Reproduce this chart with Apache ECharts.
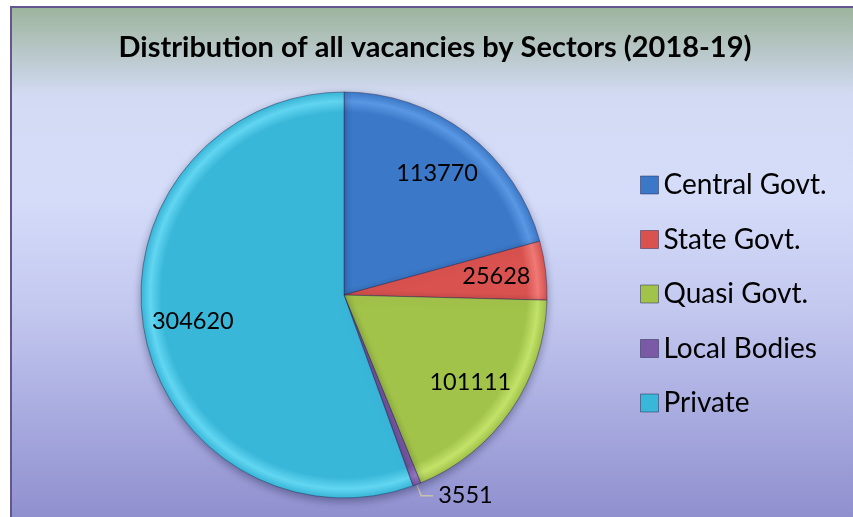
<!DOCTYPE html>
<html>
<head>
<meta charset="utf-8">
<script src="https://cdn.jsdelivr.net/npm/echarts@6/dist/echarts.min.js"></script>
<style>
html,body{margin:0;padding:0;background:#fff;}
#c{width:853px;height:517px;}
</style>
</head>
<body>
<div id="c"></div>
<script>
const categories = ['Central Govt.', 'State Govt.', 'Quasi Govt.', 'Local Bodies', 'Private'];
const values = [113770, 25628, 101111, 3551, 304620];
const colors = ['#3b79c8', '#d9524f', '#a2c34a', '#7a59a5', '#39b7d9'];
const lightColors = ['#5a98e4', '#f07a76', '#c2e26a', '#9a7ac6', '#62d6f2'];
const titleText = 'Distribution of all vacancies by Sectors (2018-19)';

const total = values.reduce((a, b) => a + b, 0);
const center = [344, 295];
const R = 203;

function bevel(i) {
  return new echarts.graphic.RadialGradient(center[0], center[1], R, [
    { offset: 0, color: colors[i] },
    { offset: 0.9, color: colors[i] },
    { offset: 0.955, color: lightColors[i] },
    { offset: 1, color: colors[i] }
  ], true);
}

const mainData = categories.map((n, i) => ({
  name: n,
  value: values[i],
  itemStyle: { color: bevel(i) },
  label: { show: values[i] / total < 0.02 },
  labelLine: { show: values[i] / total < 0.02 }
}));
const labelData = categories.map((n, i) => ({
  name: n,
  value: values[i],
  label: { show: values[i] / total >= 0.02 }
}));

const chart = echarts.init(document.getElementById('c'), null, { renderer: 'canvas' });
chart.setOption({
  animation: false,
  backgroundColor: '#ffffff',
  color: colors,
  graphic: [{
    type: 'rect',
    z: -10,
    shape: { x: 11, y: 7, width: 860, height: 530 },
    style: {
      fill: new echarts.graphic.LinearGradient(0, 0, 0, 1, [
        { offset: 0, color: '#9cb39b' },
        { offset: 0.17, color: '#d3dbf4' },
        { offset: 0.36, color: '#d5dcf9' },
        { offset: 0.57, color: '#c3c8ef' },
        { offset: 0.77, color: '#a8abdf' },
        { offset: 1, color: '#8a8acb' }
      ]),
      stroke: '#65568f',
      lineWidth: 2
    }
  }],
  title: {
    text: titleText,
    left: 435,
    textAlign: 'center',
    top: 33,
    padding: 0,
    textStyle: { fontFamily: 'Lato', fontWeight: 'bold', fontSize: 29, color: '#000' }
  },
  legend: {
    orient: 'vertical',
    left: 640,
    top: 171,
    padding: 0,
    itemWidth: 18,
    itemHeight: 18,
    itemGap: 26.5,
    itemTextGap: 8,
    icon: 'rect',
    textStyle: { fontFamily: 'Lato', fontSize: 28, color: '#000' },
    data: categories.map((n, i) => ({ name: n, itemStyle: { color: colors[i], borderColor: 'rgba(40,40,80,0.5)', borderWidth: 1 } }))
  },
  series: [{
    type: 'pie',
    center: center,
    radius: [0, R],
    startAngle: 90,
    clockwise: true,
    silent: true,
    avoidLabelOverlap: false,
    itemStyle: {
      borderColor: 'rgba(40,40,80,0.45)',
      borderWidth: 1,
      shadowBlur: 8,
      shadowColor: 'rgba(0,0,40,0.35)',
      shadowOffsetY: 3
    },
    label: {
      position: 'outside',
      formatter: '{c}',
      fontFamily: 'Lato',
      fontSize: 23.5,
      color: '#000'
    },
    labelLine: {
      length: 12,
      length2: 12,
      lineStyle: { color: '#c9c2aa', width: 1.5 }
    },
    emphasis: { disabled: true },
    data: mainData
  }, {
    type: 'pie',
    center: center,
    radius: [98, R],
    startAngle: 90,
    clockwise: true,
    silent: true,
    z: 5,
    itemStyle: { color: 'rgba(0,0,0,0)', borderWidth: 0 },
    label: {
      position: 'inside',
      formatter: '{c}',
      fontFamily: 'Lato',
      fontSize: 23.5,
      color: '#000'
    },
    labelLine: { show: false },
    emphasis: { disabled: true },
    legendHoverLink: false,
    data: labelData
  }]
});
</script>
</body>
</html>
